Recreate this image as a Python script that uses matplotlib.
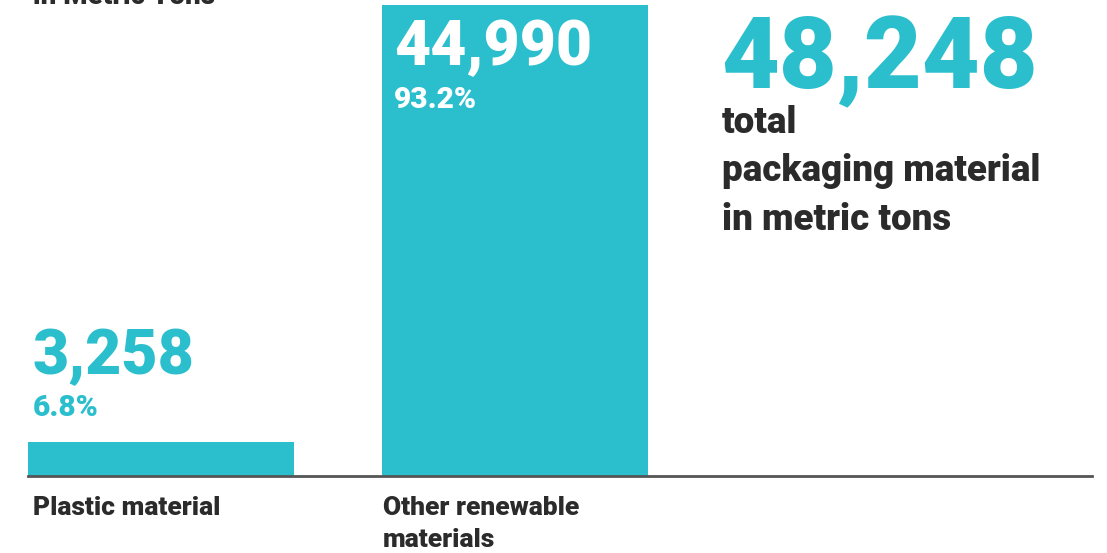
import matplotlib.pyplot as plt

# datos del gráfico
categorias = ['Plastic material', 'Other renewable\nmaterials']
toneladas = [3258, 44990]
porcentajes = ['6.8%', '93.2%']
total = 48248
titulo_total = 'total\npackaging material\nin metric tons'
subtitulo = 'in Metric Tons'

TEAL = '#2bbfcd'
OSCURO = '#2b2b2b'
FUENTE = ['Roboto', 'DejaVu Sans']

W, H = 1107, 553
fig = plt.figure(figsize=(W / 100, H / 100), dpi=100)

# ejes: base en y=476 px, tope de la barra mayor en y=5 px
ax = fig.add_axes([28 / W, 77 / H, 1064 / W, 471 / H])
ax.set_xlim(-0.376, 2.629)
ax.set_ylim(0, max(toneladas))
ax.bar(range(len(toneladas)), toneladas, width=0.752, color=TEAL)
ax.set_axis_off()

# línea base
fig.add_artist(plt.Line2D([28 / W, 1092 / W], [77 / H, 77 / H], color='#555555', lw=2))

# etiquetas de valor
fig.text(33 / W, 1 - 374 / H, f'{toneladas[0]:,}', color=TEAL, fontsize=45,
         fontweight='black', family=FUENTE, va='baseline')
fig.text(33 / W, 1 - 416 / H, porcentajes[0], color=TEAL, fontsize=21.5,
         fontweight='black', family=FUENTE, va='baseline')
fig.text(394 / W, 1 - 65 / H, f'{toneladas[1]:,}', color='white', fontsize=45,
         fontweight='black', family=FUENTE, va='baseline')
fig.text(394 / W, 1 - 108 / H, porcentajes[1], color='white', fontsize=21.5,
         fontweight='black', family=FUENTE, va='baseline')

# total
fig.text(721 / W, 1 - 88 / H, f'{total:,}', color=TEAL, fontsize=72,
         fontweight='black', family=FUENTE, va='baseline')
fig.text(722 / W, 1 - 230 / H, titulo_total, color=OSCURO, fontsize=26.5,
         fontweight='black', family=FUENTE, va='baseline', linespacing=1.45)

# categorías
fig.text(33 / W, 1 - 515 / H, categorias[0], color=OSCURO, fontsize=19,
         fontweight='black', family=FUENTE, va='baseline')
fig.text(383 / W, 1 - 547 / H, categorias[1], color=OSCURO, fontsize=19,
         fontweight='black', family=FUENTE, va='baseline', linespacing=1.4)

# subtítulo cortado arriba
fig.text(33 / W, 1 - 4 / H, subtitulo, color=OSCURO, fontsize=20,
         fontweight='black', family=FUENTE, va='baseline')

fig.savefig('out.png', dpi=100)
